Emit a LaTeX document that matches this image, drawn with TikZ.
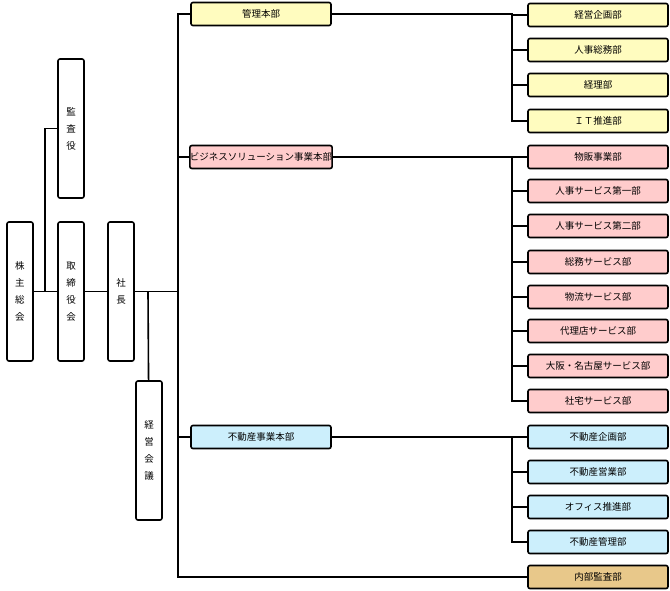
\documentclass[tikz,border=0pt]{standalone}
\usepackage{fontspec}
\newfontfamily\cjk{Noto Sans CJK JP}
\begin{document}
\begin{tikzpicture}[x=1pt,y=-1pt,line width=1.6pt,
 box/.style={draw,rounded corners=2pt,fill=white,font=\cjk\fontsize{9.5}{11}\selectfont,inner sep=0pt},
 vbox/.style={box,minimum width=26pt,minimum height=139pt,align=center},
 hbox/.style={box,minimum width=140pt,minimum height=23pt},
 fy/.style={hbox,fill=yellow!25},fp/.style={hbox,fill=red!20},fc/.style={hbox,fill=cyan!20},ft/.style={hbox,fill={rgb,255:red,232;green,200;blue,138}}]
\useasboundingbox (0,0) rectangle (670,590);
\node[vbox] (kabu) at (20,291.5) {株\\[6pt]主\\[6pt]総\\[6pt]会};
\node[vbox] (kansa) at (71,128.5) {監\\[6pt]査\\[6pt]役};
\node[vbox] (tori) at (71,291.5) {取\\[6pt]締\\[6pt]役\\[6pt]会};
\node[vbox] (sha) at (121,291.5) {社\\[6pt]長};
\node[vbox] (kei) at (149,450.5) {経\\[6pt]営\\[6pt]会\\[6pt]議};
\node[fy] (k1) at (261,14) {管理本部};
\node[fp] (k2) at (261,157) {ビジネスソリューション事業本部};
\node[fc] (k3) at (261,437) {不動産事業本部};
\foreach \n/\yy/\s/\t in {a1/15/fy/経営企画部,a2/50/fy/人事総務部,a3/85/fy/経理部,a4/121/fy/ＩＴ推進部,
 b1/157/fp/物販事業部,b2/191/fp/人事サービス第一部,b3/226/fp/人事サービス第二部,b4/262/fp/総務サービス部,b5/297/fp/物流サービス部,b6/331/fp/代理店サービス部,b7/366/fp/大阪・名古屋サービス部,b8/401/fp/社宅サービス部,
 c1/437/fc/不動産企画部,c2/472/fc/不動産営業部,c3/507/fc/オフィス推進部,c4/542/fc/不動産管理部,d/577/ft/内部監査部}
 \node[\s] (\n) at (598,\yy) {\t};
\coordinate (j1) at (45,291.5);
\draw (kabu) -- (tori); \draw (j1) |- (kansa);
\draw (tori) -- (sha);
\coordinate (bus) at (178,291.5);
\draw (sha) -- (bus);
\coordinate (j2) at (148,291.5);
\draw (j2) -- (kei);
\draw (bus) |- (k1.west); \draw (bus) |- (d.west); \draw (bus |- k2) -- (k2); \draw (bus |- k3) -- (k3);
\foreach \top/\bot/\list in {k1/a4/{a1,a2,a3,a4},k2/b8/{b1,b2,b3,b4,b5,b6,b7,b8},k3/c4/{c1,c2,c3,c4}}{
 \draw (\top.east) -- (512,0 |- \top.east) |- (\bot.west);
 \foreach \q in \list { \draw (512,0 |- \q.west) -- (\q.west); }
}
\end{tikzpicture}
\end{document}
